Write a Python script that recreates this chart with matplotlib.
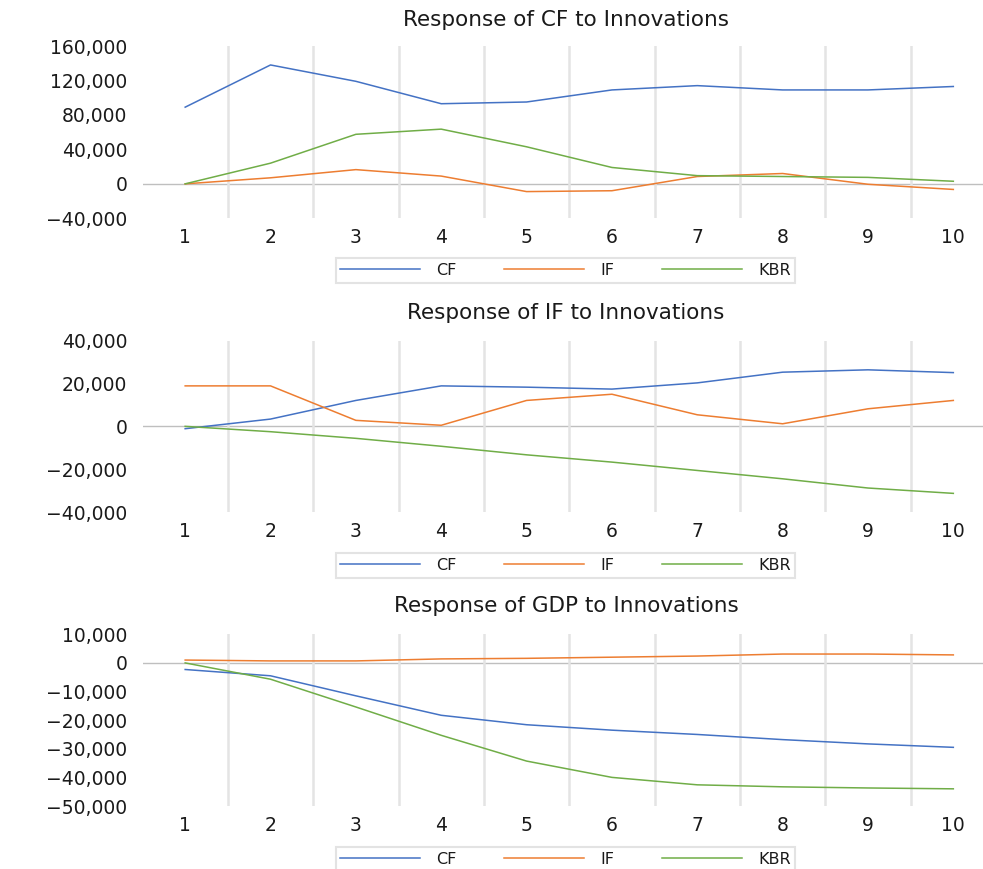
import numpy as np
import matplotlib
matplotlib.use("Agg")
import matplotlib.pyplot as plt
from matplotlib.ticker import FixedLocator, StrMethodFormatter

periods = list(range(1, 11))
series_names = ["CF", "IF", "KBR"]
colors = ["#4472C4", "#ED7D31", "#70AD47"]

# responses of CF
cf_cf = [89000, 138000, 119000, 93000, 95000, 109000, 114000, 109000, 109000, 113000]
cf_if = [0, 7000, 16500, 9000, -9000, -8000, 8500, 12000, -500, -6500]
cf_kbr = [0, 24000, 57500, 63500, 43000, 19000, 9500, 8500, 7500, 3000]

# responses of IF
if_cf = [-1100, 3400, 12100, 18900, 18300, 17400, 20300, 25300, 26400, 25100]
if_if = [18900, 18900, 2800, 500, 12100, 15000, 5400, 1200, 8200, 12100]
if_kbr = [0, -2500, -5600, -9300, -13300, -16700, -20600, -24500, -28800, -31300]

# responses of GDP
gdp_cf = [-2300, -4500, -11500, -18300, -21600, -23500, -25000, -26800, -28300, -29500]
gdp_if = [1000, 700, 700, 1400, 1600, 2000, 2400, 3100, 3100, 2800]
gdp_kbr = [0, -5700, -15400, -25300, -34300, -40000, -42600, -43300, -43700, -44000]

titles = ["Response of CF to Innovations",
          "Response of IF to Innovations",
          "Response of GDP to Innovations"]
yticks = [np.arange(-40000, 160001, 40000),
          np.arange(-40000, 40001, 20000),
          np.arange(-50000, 10001, 10000)]
panels = [[cf_cf, cf_if, cf_kbr], [if_cf, if_if, if_kbr], [gdp_cf, gdp_if, gdp_kbr]]

fig = plt.figure(figsize=(9.83, 8.69), dpi=100)
W, H = 983, 869

# pixel layout of each panel: (top, bottom) of plot area, title y, legend top
boxes = [(46, 218.3, 20, 258), (340.7, 512, 313, 553), (634.3, 806, 606, 847)]
left, right = 142.5, 996

for (top, bot, ty, lt), title, data, yt in zip(boxes, titles, panels, yticks):
    ax = fig.add_axes([left / W, 1 - bot / H, (right - left) / W, (bot - top) / H])
    for vals, name, c in zip(data, series_names, colors):
        ax.plot(periods, vals, color=c, lw=1.1, label=name)
    ax.axhline(0, color="#bfbfbf", lw=1.0, zorder=0.5)
    ax.set_xlim(0.5, 10.5)
    ax.set_ylim(yt[0], yt[-1])
    ax.set_xticks(periods)
    ax.xaxis.set_minor_locator(FixedLocator(np.arange(1.5, 10, 1)))
    ax.grid(which="minor", axis="x", color="#e4e4e4", lw=1.8)
    ax.set_axisbelow(True)
    ax.set_yticks(yt)
    ax.yaxis.set_major_formatter(StrMethodFormatter("{x:,.0f}"))
    ax.tick_params(which="both", length=0)
    ax.tick_params(axis="y", pad=11, labelsize=13.5, labelcolor="#1a1a1a")
    ax.tick_params(axis="x", pad=7, labelsize=13.5, labelcolor="#1a1a1a")
    for s in ax.spines.values():
        s.set_visible(False)
    fig.text(566 / W, 1 - ty / H, title, ha="center", va="center",
             fontsize=15.5, color="#1a1a1a")
    leg = ax.legend(loc="upper center", bbox_to_anchor=(565.5 / W, 1 - lt / H),
                    bbox_transform=fig.transFigure, ncol=3, frameon=True,
                    fancybox=False, edgecolor="#dcdcdc", fontsize=11.5,
                    handlelength=5.0, columnspacing=3.0, borderpad=0.3,
                    handletextpad=1.0, borderaxespad=0)
    leg.get_frame().set_linewidth(1.5)
    for t in leg.get_texts():
        t.set_color("#1a1a1a")

fig.savefig("out.png", dpi=100)
